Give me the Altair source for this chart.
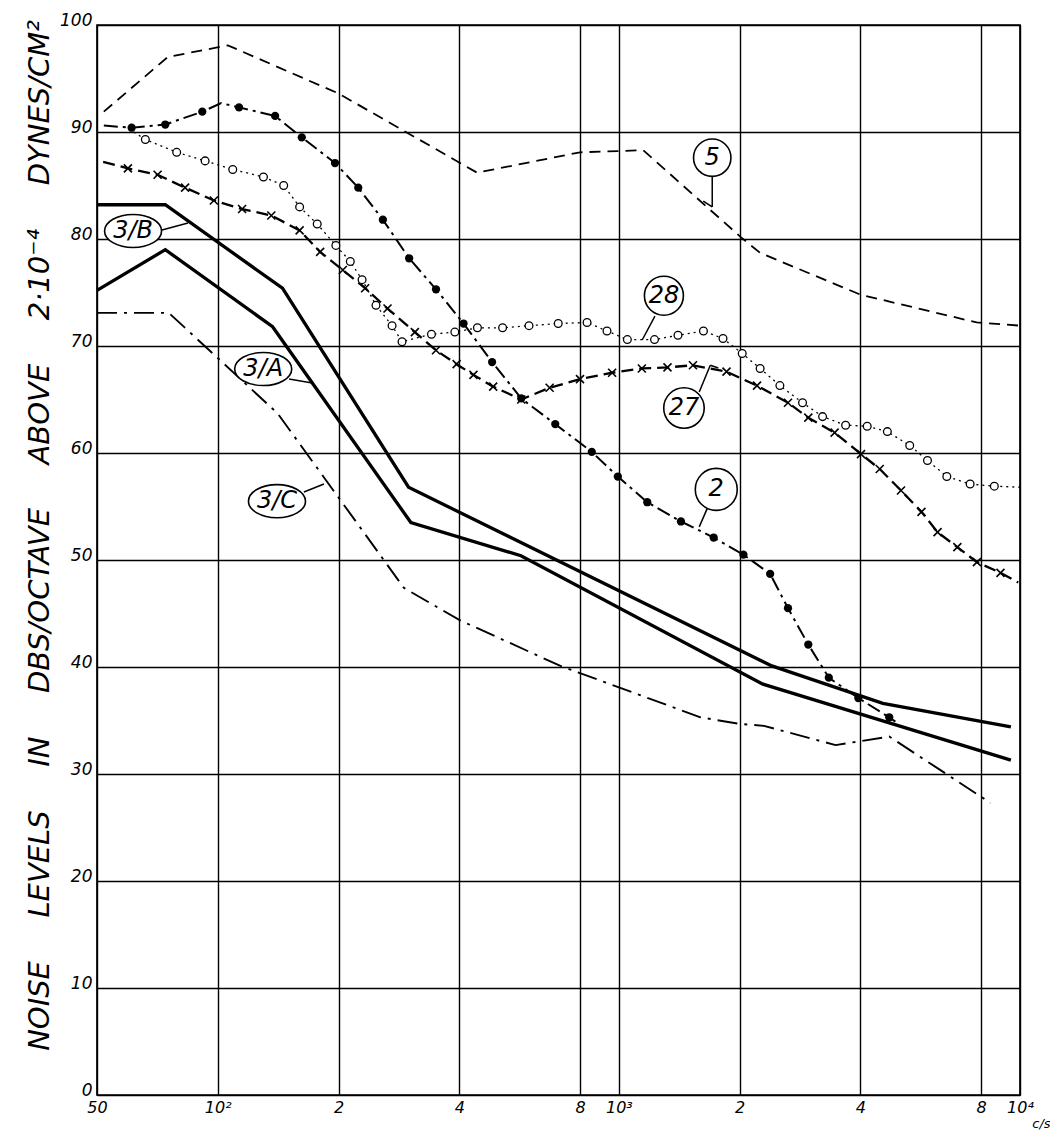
import altair as alt
import pandas as pd

# ---------------- data (frequency in c/s, level in dB) ----------------
c5_f = [52, 75, 106, 200, 443, 800, 1150, 2010, 2250, 4000, 7800, 10000]
c5_v = [91.9, 97.0, 98.1, 93.6, 86.2, 88.1, 88.3, 80.2, 78.7, 74.8, 72.2, 71.9]

c2_f = [52, 61, 74, 91.5, 102, 113, 139, 162, 196, 224, 258, 300, 350, 410, 483,
        571, 694, 856, 994, 1177, 1428, 1723, 2044, 2383, 2640, 2966, 3337, 3953,
        4720, 4890]
c2_v = [90.6, 90.4, 90.7, 91.9, 92.7, 92.3, 91.5, 89.5, 87.1, 84.8, 81.8, 78.2,
        75.3, 72.1, 68.5, 65.1, 62.7, 60.1, 57.8, 55.4, 53.6, 52.1, 50.5, 48.7,
        45.5, 42.1, 39.0, 37.1, 35.3, 34.9]

c28_f = [60, 66, 79, 93, 109, 130, 146, 160, 177, 197, 214, 229, 248, 272, 288,
         341, 390, 444, 513, 597, 706, 833, 934, 1050, 1227, 1404, 1625, 1818,
         2030, 2250, 2520, 2870, 3220, 3675, 4160, 4670, 5310, 5880, 6570, 7510,
         8630, 10000]
c28_v = [90.3, 89.3, 88.1, 87.3, 86.5, 85.8, 85.0, 83.0, 81.4, 79.4, 77.9, 76.2,
         73.8, 71.9, 70.4, 71.1, 71.3, 71.7, 71.7, 71.9, 72.1, 72.2, 71.4, 70.6,
         70.6, 71.0, 71.4, 70.7, 69.3, 67.9, 66.3, 64.7, 63.4, 62.6, 62.5, 62.0,
         60.7, 59.3, 57.8, 57.1, 56.9, 56.8]

c27_f = [51.8, 59.7, 70.8, 82.9, 97.8, 115, 136, 160, 180, 205, 233, 265, 310,
         350, 394, 434, 486, 571, 672, 800, 962, 1141, 1322, 1530, 1855, 2210,
         2640, 2966, 3450, 4015, 4470, 5050, 5680, 6230, 6980, 7810, 8940, 9900]
c27_v = [87.2, 86.6, 86.0, 84.8, 83.6, 82.8, 82.2, 80.8, 78.8, 77.1, 75.4, 73.5,
         71.3, 69.6, 68.3, 67.3, 66.2, 65.0, 66.1, 66.9, 67.5, 67.9, 68.0, 68.2,
         67.6, 66.3, 64.7, 63.3, 61.9, 59.9, 58.5, 56.5, 54.5, 52.6, 51.2, 49.8,
         48.8, 47.9]

c3b_f = [50, 74, 145, 299, 2406, 4550, 9490]
c3b_v = [83.2, 83.2, 75.4, 56.8, 40.1, 36.6, 34.4]

c3a_f = [50, 74, 137, 303, 570, 2286, 9490]
c3a_v = [75.2, 79.0, 71.8, 53.5, 50.4, 38.4, 31.3]

c3c_f = [50, 75.5, 141, 220, 291, 400, 715, 1000, 1597, 1985, 2300, 3470, 4720, 8440]
c3c_v = [73.1, 73.1, 63.7, 53.7, 47.4, 44.4, 40.1, 38.1, 35.3, 34.7, 34.5, 32.7, 33.5, 27.3]

# curve labels
lab_text = ["5", "28", "27", "2", "3/B", "3/A", "3/C"]
lab_f = [1709, 1295, 1453, 1749, 61.5, 129.8, 140.5]
lab_v = [87.6, 74.7, 64.2, 56.6, 80.75, 67.85, 55.5]

# leader lines from labels to curves
lead_f = [1709, 1709, 1230, 1586, 1690, 1660, 72.6, 150.6, 164]
lead_v = [85.8, 83.0, 72.8, 65.7, 68.2, 54.8, 80.84, 66.92, 56.36]
lead_f2 = [1709, 1623, 1143, 1690, 1770, 1586, 84.3, 172, 184]
lead_v2 = [83.0, 83.55, 70.56, 68.2, 67.94, 53.1, 81.5, 66.54, 57.1]

x_ticks = [50, 100, 200, 400, 800, 1000, 2000, 4000, 8000, 10000]
x_tick_labels = ["50", "10²", "2", "4", "8", "10³", "2", "4", "8", "10⁴"]
y_ticks = [0, 10, 20, 30, 40, 50, 60, 70, 80, 90, 100]

y_title = "NOISE\u2003\u2002LEVELS\u2003\u2002IN\u2003\u2002DBS/OCTAVE\u2003\u2002ABOVE\u2003\u20022·10⁻⁴\u2003\u2002DYNES/CM²"

FONT = "DejaVu Sans"

# ---------------- helpers ----------------
def frame(f, v):
    return pd.DataFrame({"f": f, "v": v})

label_expr = " : ".join(
    f"datum.value == {t} ? '{l}'" for t, l in zip(x_ticks, x_tick_labels)
) + " : ''"

xaxis = alt.Axis(values=x_ticks, labelExpr=label_expr, grid=True, gridColor="black",
                 gridWidth=1.4, gridOpacity=1, ticks=False, domain=False,
                 labelFont=FONT, labelFontStyle="italic", labelFontSize=16,
                 labelColor="black", labelPadding=4, labelFlush=False,
                 title="c/s", titleFont=FONT, titleFontStyle="italic",
                 titleFontWeight="normal", titleFontSize=13, titleColor="black",
                 titleX=944, titleY=32, titleAlign="center", titleBaseline="alphabetic",
                 titleAnchor="start")
yaxis = alt.Axis(values=y_ticks, grid=True, gridColor="black", gridWidth=1.4,
                 gridOpacity=1, ticks=False, domain=False, labelFont=FONT,
                 labelFontStyle="italic", labelFontSize=17, labelColor="black",
                 labelPadding=5, labelOffset=-5, labelFlush=False,
                 title=y_title, titleFont=FONT, titleFontStyle="italic",
                 titleFontWeight="normal", titleFontSize=29, titleColor="black",
                 titleAngle=270, titleX=-49, titleY=510, titleAlign="center",
                 titleBaseline="alphabetic")

xs = alt.Scale(type="log", domain=[50, 10000], nice=False)
ys = alt.Scale(domain=[0, 100], nice=False, zero=False)
X = alt.X("f:Q", scale=xs, axis=xaxis)
Y = alt.Y("v:Q", scale=ys, axis=yaxis)


def line(f, v, **kw):
    return alt.Chart(frame(f, v)).mark_line(color="black", **kw).encode(x=X, y=Y)


def markers(f, v, skip, **kw):
    idx = [i for i in range(len(f)) if i not in skip]
    return alt.Chart(frame([f[i] for i in idx], [v[i] for i in idx])).mark_point(
        **kw).encode(x=X, y=Y)


layers = [
    line(c5_f, c5_v, strokeWidth=1.8, strokeDash=[11, 7]),
    line(c3b_f, c3b_v, strokeWidth=3.3),
    line(c3a_f, c3a_v, strokeWidth=3.3),
    line(c3c_f, c3c_v, strokeWidth=1.9, strokeDash=[20, 7, 3, 7]),
    line(c27_f, c27_v, strokeWidth=2.3, strokeDash=[12, 6]),
    line(c28_f, c28_v, strokeWidth=1.3, strokeDash=[2, 4]),
    line(c2_f, c2_v, strokeWidth=2.0, strokeDash=[14, 5, 3, 5]),
    markers(c2_f, c2_v, {0, 4, len(c2_f) - 1}, shape="circle", filled=True,
            color="black", size=68, opacity=1),
    markers(c28_f, c28_v, {0, len(c28_f) - 1}, shape="circle", filled=True,
            fill="white", stroke="black", strokeWidth=1.3, size=60, opacity=1),
    markers(c27_f, c27_v, {0, len(c27_f) - 1}, shape="M -1 -1 L 1 1 M -1 1 L 1 -1",
            filled=False, stroke="black", strokeWidth=1.6, size=64, opacity=1),
]

leaders = alt.Chart(pd.DataFrame({"f": lead_f, "v": lead_v, "f2": lead_f2,
                                  "v2": lead_v2})).mark_rule(
    color="black", strokeWidth=1.5).encode(x=X, y=Y, x2="f2:Q", y2="v2:Q")

labdf = pd.DataFrame({"f": lab_f, "v": lab_v, "t": lab_text})
circ = alt.Chart(labdf[labdf.t.str.len() <= 2]).mark_point(
    shape="circle", filled=True, fill="white", stroke="black", strokeWidth=1.6,
    opacity=1).encode(
    x=X, y=Y,
    size=alt.Size("t:N", scale=alt.Scale(domain=["5", "28", "27", "2"],
                                          range=[1400, 1760, 1760, 1600]),
                  legend=None))
ell = alt.Chart(labdf[labdf.t.str.len() > 2]).mark_point(
    shape="M -1 0 A 1 0.58 0 1 1 1 0 A 1 0.58 0 1 1 -1 0 Z", filled=True,
    fill="white", stroke="black", strokeWidth=1.6, size=3249, opacity=1).encode(x=X, y=Y)
txt = alt.Chart(labdf).mark_text(font=FONT, fontStyle="italic", fontSize=24,
                                 color="black", baseline="middle",
                                 align="center").encode(x=X, y=Y, text="t:N")

chart = alt.layer(*layers, leaders, circ, ell, txt).properties(
    width=923, height=1070,
    padding={"left": 89, "top": 17, "right": 30, "bottom": 35},
    autosize=alt.AutoSizeParams(type="none"),
    background="white",
).configure_view(stroke="black", strokeWidth=1.7)

chart.save("out.html", embed_options={"renderer": "svg", "actions": False})
